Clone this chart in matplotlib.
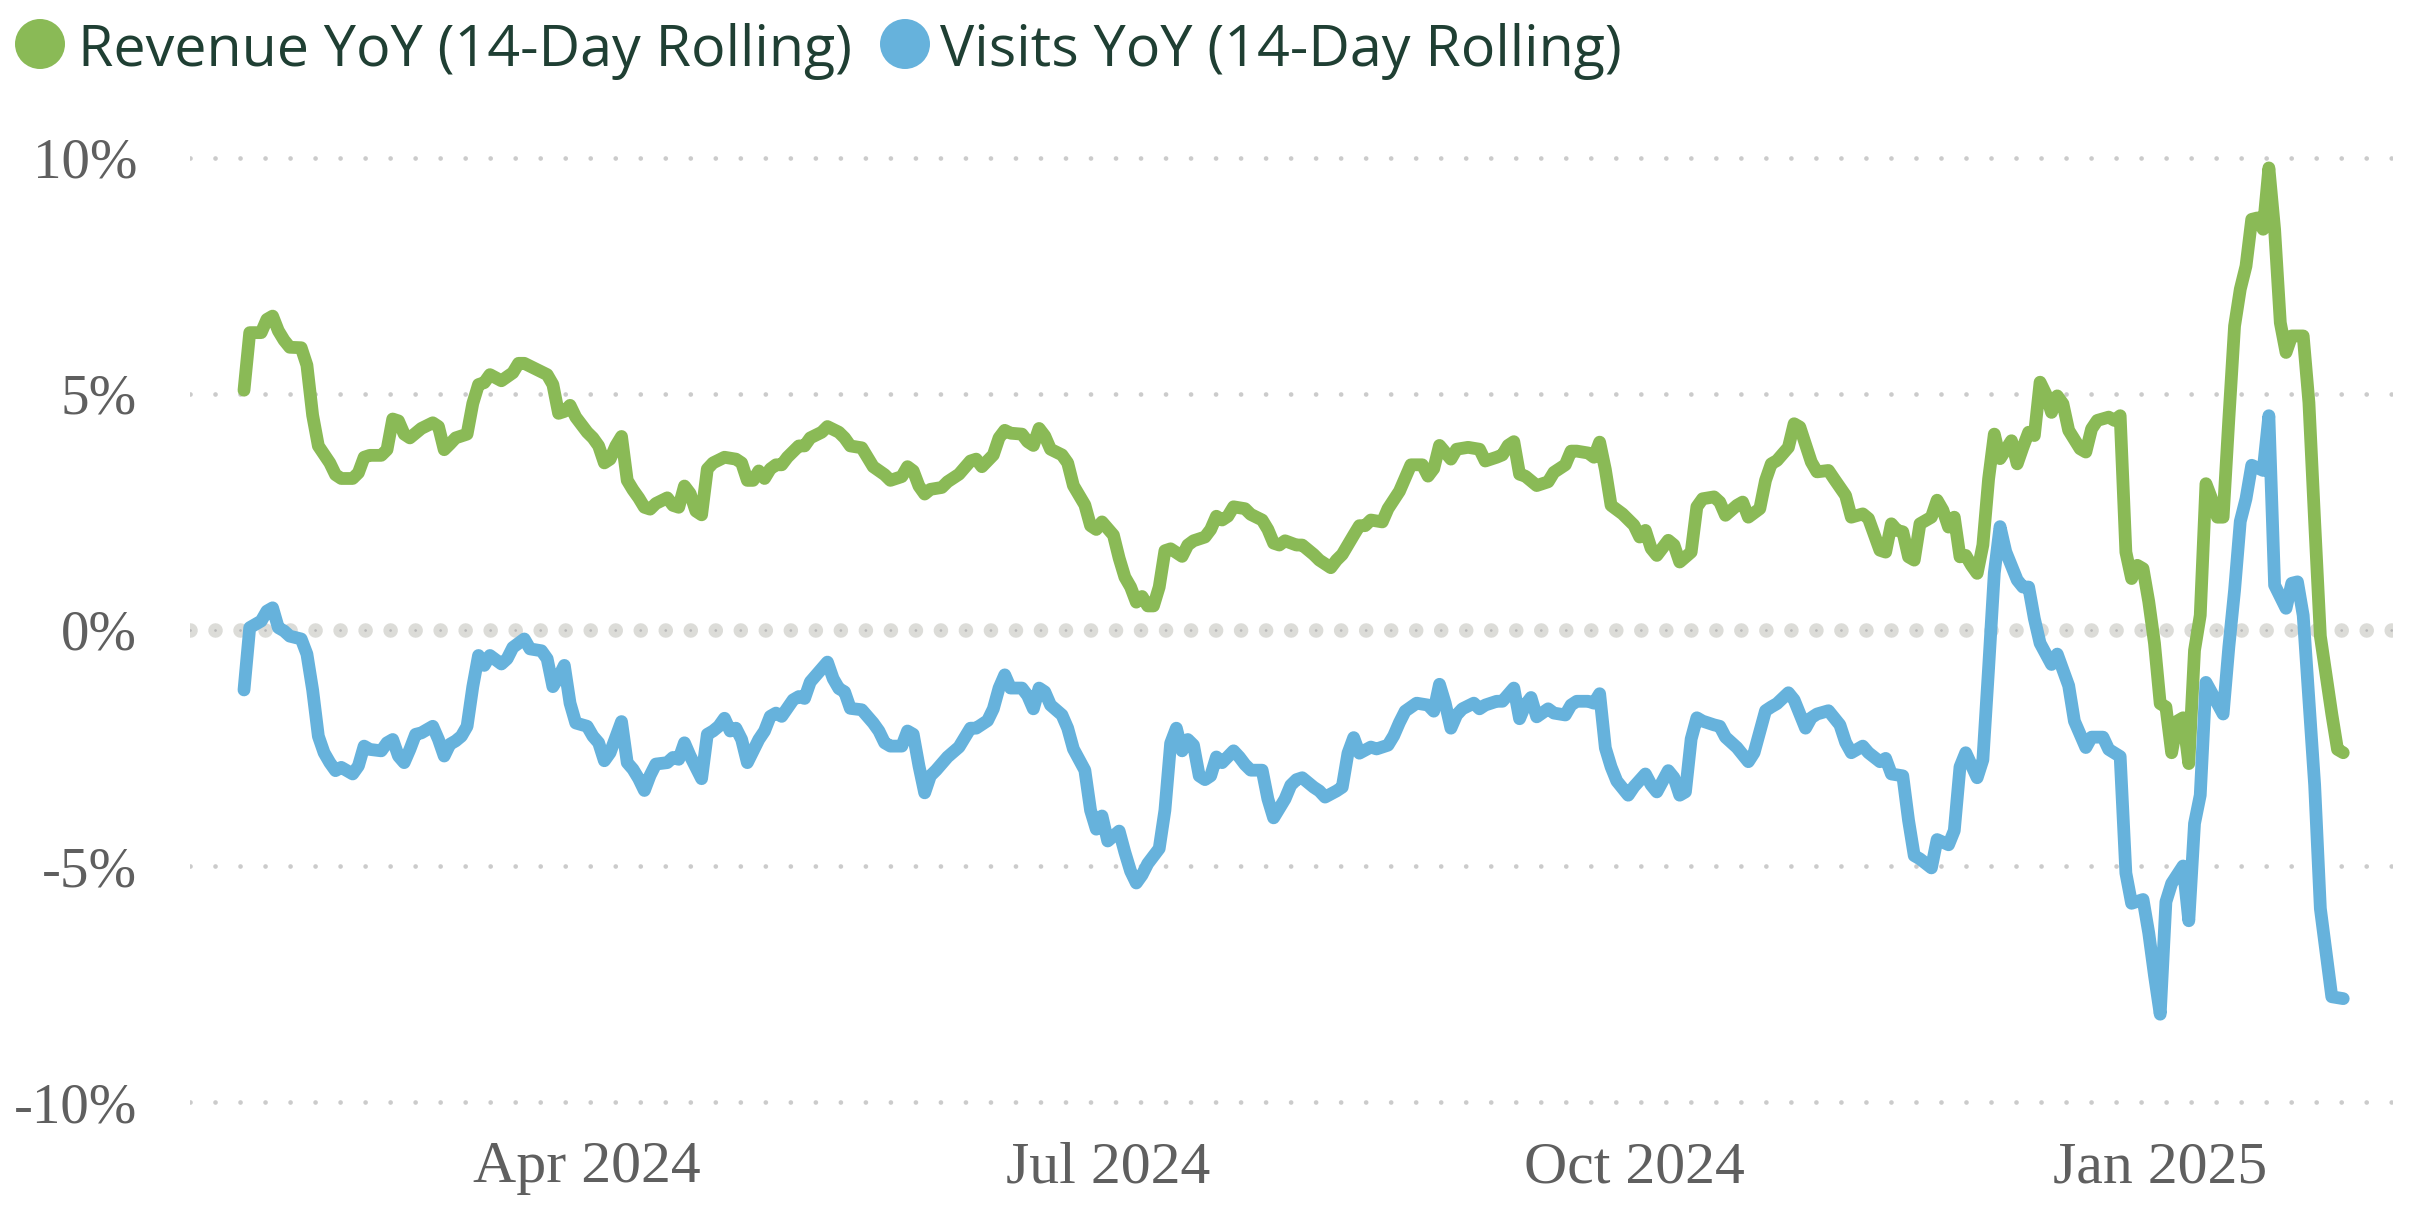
import matplotlib
matplotlib.use("Agg")
import matplotlib.pyplot as plt
import matplotlib.dates as mdates
from matplotlib.patches import Circle
import numpy as np
import pandas as pd

# ---------------- data ----------------
start_date = "2024-02-01"

revenue_day = [
    0, 1, 3, 4, 5, 6, 7, 8, 10, 11,
    12, 13, 15, 16, 17, 19, 20, 21, 22, 24,
    25, 26, 27, 28, 29, 31, 33, 34, 35, 36,
    37, 39, 40, 41, 42, 43, 45, 47, 48, 49,
    51, 53, 54, 55, 56, 57, 58, 59, 60, 61,
    62, 63, 64, 65, 66, 67, 68, 69, 70, 71,
    72, 74, 75, 76, 77, 78, 79, 80, 81, 82,
    84, 86, 87, 88, 89, 90, 91, 92, 93, 94,
    95, 97, 98, 99, 101, 102, 104, 105, 106, 108,
    109, 110, 112, 113, 115, 116, 117, 118, 119, 120,
    122, 123, 125, 127, 128, 129, 131, 132, 133, 134,
    136, 137, 138, 139, 140, 141, 143, 144, 145, 147,
    148, 149, 150, 152, 153, 154, 155, 156, 157, 158,
    159, 160, 161, 162, 164, 165, 166, 168, 169, 170,
    171, 172, 173, 175, 176, 178, 179, 180, 181, 182,
    184, 185, 187, 188, 190, 191, 192, 194, 195, 196,
    197, 199, 200, 202, 203, 204, 206, 207, 208, 209,
    211, 212, 214, 216, 217, 219, 220, 221, 222, 223,
    224, 226, 228, 229, 231, 232, 233, 235, 236, 237,
    238, 239, 241, 243, 244, 245, 246, 247, 249, 250,
    251, 253, 254, 255, 257, 258, 259, 261, 262, 263,
    265, 266, 267, 268, 270, 271, 272, 274, 275, 277,
    278, 280, 281, 283, 284, 286, 287, 288, 289, 290,
    291, 292, 293, 295, 296, 297, 298, 299, 300, 301,
    302, 303, 304, 305, 306, 307, 309, 310, 311, 312,
    313, 314, 315, 316, 317, 318, 319, 321, 322, 323,
    324, 326, 327, 328, 329, 330, 331, 332, 333, 334,
    335, 336, 337, 338, 339, 340, 341, 342, 343, 344,
    345, 346, 347, 348, 349, 350, 351, 352, 353, 354,
    355, 356, 357, 358, 360, 361, 362, 363, 365, 366,
    367,
]
revenue_yoy = [
    5.08, 6.30, 6.30, 6.58, 6.65, 6.34, 6.14, 5.99, 5.98, 5.61,
    4.55, 3.90, 3.54, 3.29, 3.21, 3.21, 3.33, 3.66, 3.70, 3.70,
    3.82, 4.47, 4.43, 4.15, 4.07, 4.27, 4.39, 4.31, 3.82, 3.94,
    4.07, 4.15, 4.80, 5.20, 5.24, 5.41, 5.28, 5.45, 5.65, 5.65,
    5.53, 5.41, 5.20, 4.59, 4.63, 4.76, 4.51, 4.35, 4.19, 4.07,
    3.90, 3.54, 3.62, 3.90, 4.10, 3.17, 2.97, 2.80, 2.60, 2.56,
    2.68, 2.80, 2.64, 2.60, 3.05, 2.89, 2.52, 2.44, 3.41, 3.54,
    3.66, 3.62, 3.54, 3.17, 3.17, 3.37, 3.21, 3.41, 3.50, 3.50,
    3.66, 3.90, 3.90, 4.07, 4.19, 4.31, 4.19, 4.07, 3.90, 3.86,
    3.66, 3.46, 3.29, 3.17, 3.25, 3.46, 3.37, 3.05, 2.88, 2.98,
    3.02, 3.14, 3.30, 3.58, 3.62, 3.46, 3.71, 4.07, 4.23, 4.17,
    4.15, 3.99, 3.91, 4.27, 4.11, 3.83, 3.71, 3.54, 3.06, 2.65,
    2.21, 2.13, 2.29, 2.01, 1.52, 1.12, 0.91, 0.59, 0.71, 0.51,
    0.51, 0.91, 1.68, 1.72, 1.56, 1.80, 1.89, 1.97, 2.13, 2.41,
    2.33, 2.41, 2.61, 2.57, 2.45, 2.33, 2.13, 1.84, 1.80, 1.89,
    1.80, 1.80, 1.60, 1.48, 1.32, 1.48, 1.60, 2.01, 2.21, 2.21,
    2.33, 2.29, 2.57, 2.94, 3.22, 3.50, 3.50, 3.26, 3.42, 3.91,
    3.62, 3.83, 3.87, 3.83, 3.58, 3.66, 3.71, 3.91, 3.99, 3.30,
    3.26, 3.06, 3.14, 3.34, 3.50, 3.79, 3.79, 3.75, 3.66, 3.98,
    3.40, 2.64, 2.46, 2.22, 1.97, 2.11, 1.73, 1.58, 1.90, 1.80,
    1.44, 1.65, 2.61, 2.78, 2.82, 2.71, 2.43, 2.64, 2.71, 2.39,
    2.57, 3.17, 3.52, 3.59, 3.87, 4.37, 4.30, 3.56, 3.35, 3.38,
    3.20, 2.85, 2.39, 2.46, 2.36, 1.69, 1.65, 2.25, 2.11, 2.08,
    1.55, 1.48, 2.25, 2.39, 2.75, 2.54, 2.18, 2.39, 1.55, 1.58,
    1.37, 1.20, 1.80, 3.20, 4.15, 3.63, 4.01, 3.52, 3.87, 4.19,
    4.12, 5.25, 5.00, 4.61, 4.96, 4.79, 4.23, 3.84, 3.77, 4.26,
    4.44, 4.51, 4.44, 4.54, 1.65, 1.09, 1.37, 1.30, 0.60, -0.28,
    -1.56, -1.63, -2.60, -1.93, -1.86, -2.83, -0.43, 0.31, 3.10, 2.78,
    2.39, 2.39, 4.47, 6.44, 7.22, 7.71, 8.70, 8.73, 8.49, 9.79,
    8.49, 6.51, 5.88, 6.23, 6.23, 4.82, 2.30, -0.13, -1.78, -2.53,
    -2.60,
]

visits_day = [
    0, 1, 3, 4, 5, 6, 7, 8, 10, 11,
    12, 13, 14, 15, 16, 17, 19, 20, 21, 22,
    24, 25, 26, 27, 28, 29, 30, 31, 33, 34,
    35, 36, 37, 38, 39, 40, 41, 42, 43, 45,
    46, 47, 49, 50, 52, 53, 54, 55, 56, 57,
    58, 60, 61, 62, 63, 64, 66, 67, 68, 69,
    70, 71, 72, 74, 75, 76, 77, 78, 80, 81,
    82, 83, 84, 85, 86, 87, 88, 90, 91, 92,
    93, 94, 96, 97, 98, 99, 101, 102, 103, 104,
    105, 106, 108, 110, 111, 112, 113, 115, 116, 117,
    118, 119, 120, 121, 123, 125, 126, 127, 128, 130,
    131, 132, 133, 134, 136, 137, 138, 139, 140, 141,
    143, 144, 145, 147, 148, 149, 150, 151, 153, 154,
    155, 156, 157, 158, 160, 161, 162, 163, 164, 165,
    166, 167, 168, 169, 170, 171, 173, 174, 175, 176,
    178, 179, 180, 182, 183, 184, 185, 187, 188, 189,
    191, 192, 193, 194, 195, 197, 198, 200, 201, 202,
    203, 205, 207, 208, 209, 210, 211, 212, 213, 215,
    216, 217, 219, 220, 222, 223, 224, 225, 226, 228,
    229, 231, 232, 233, 235, 236, 237, 238, 239, 240,
    242, 243, 245, 246, 247, 249, 250, 251, 252, 253,
    254, 255, 257, 258, 259, 261, 263, 264, 266, 267,
    268, 270, 271, 273, 274, 275, 277, 279, 280, 281,
    283, 284, 286, 287, 288, 290, 291, 292, 293, 295,
    296, 298, 299, 300, 301, 303, 304, 305, 306, 307,
    308, 310, 311, 312, 313, 314, 316, 317, 319, 320,
    322, 323, 325, 326, 328, 329, 330, 332, 333, 334,
    335, 336, 337, 339, 340, 341, 342, 343, 344, 346,
    347, 348, 349, 350, 351, 353, 354, 355, 357, 358,
    359, 360, 362, 363, 365, 367,
]
visits_yoy = [
    -1.27, 0.05, 0.19, 0.40, 0.47, 0.05, -0.02, -0.13, -0.19, -0.51,
    -1.27, -2.25, -2.60, -2.81, -2.98, -2.91, -3.05, -2.88, -2.46, -2.53,
    -2.56, -2.39, -2.32, -2.67, -2.81, -2.53, -2.21, -2.18, -2.04, -2.32,
    -2.67, -2.42, -2.35, -2.25, -2.04, -1.20, -0.54, -0.75, -0.54, -0.72,
    -0.61, -0.37, -0.19, -0.40, -0.44, -0.61, -1.20, -1.00, -0.75, -1.55,
    -1.97, -2.04, -2.25, -2.39, -2.77, -2.60, -1.94, -2.81, -2.95, -3.15,
    -3.40, -3.08, -2.84, -2.81, -2.70, -2.74, -2.39, -2.67, -3.15, -2.21,
    -2.14, -2.04, -1.87, -2.14, -2.08, -2.32, -2.81, -2.32, -2.14, -1.83,
    -1.76, -1.83, -1.48, -1.41, -1.45, -1.10, -0.82, -0.68, -1.03, -1.24,
    -1.31, -1.66, -1.69, -1.97, -2.14, -2.39, -2.46, -2.46, -2.14, -2.21,
    -2.88, -3.45, -3.09, -2.97, -2.69, -2.48, -2.28, -2.08, -2.08, -1.92,
    -1.67, -1.23, -0.95, -1.23, -1.23, -1.39, -1.67, -1.23, -1.31, -1.59,
    -1.80, -2.08, -2.52, -2.97, -3.82, -4.22, -3.94, -4.47, -4.26, -4.71,
    -5.11, -5.36, -5.19, -4.95, -4.63, -3.82, -2.40, -2.08, -2.56, -2.32,
    -2.44, -3.09, -3.17, -3.09, -2.69, -2.81, -2.56, -2.69, -2.85, -2.97,
    -2.97, -3.58, -3.98, -3.58, -3.29, -3.17, -3.13, -3.33, -3.41, -3.54,
    -3.41, -3.33, -2.61, -2.28, -2.61, -2.48, -2.52, -2.44, -2.24, -1.96,
    -1.72, -1.55, -1.59, -1.72, -1.15, -1.55, -2.08, -1.80, -1.67, -1.55,
    -1.67, -1.59, -1.51, -1.51, -1.23, -1.88, -1.59, -1.43, -1.84, -1.67,
    -1.76, -1.80, -1.59, -1.51, -1.51, -1.55, -1.35, -2.50, -2.90, -3.20,
    -3.50, -3.32, -3.05, -3.28, -3.43, -2.98, -3.13, -3.50, -3.43, -2.31,
    -1.86, -1.93, -2.01, -2.04, -2.27, -2.49, -2.79, -2.60, -1.71, -1.63,
    -1.56, -1.33, -1.48, -2.08, -1.86, -1.78, -1.71, -2.01, -2.38, -2.60,
    -2.46, -2.60, -2.79, -2.72, -3.05, -3.09, -4.03, -4.78, -4.85, -5.04,
    -4.44, -4.55, -4.25, -2.90, -2.60, -3.13, -2.75, -0.81, 1.21, 2.19,
    1.66, 1.06, 0.91, 0.91, 0.24, -0.28, -0.73, -0.51, -1.18, -1.93,
    -2.49, -2.27, -2.27, -2.53, -2.68, -5.15, -5.79, -5.71, -6.42, -7.32,
    -8.14, -5.76, -5.37, -5.00, -6.16, -4.10, -3.50, -1.11, -1.33, -1.78,
    -0.36, 0.84, 2.30, 2.78, 3.49, 3.38, 4.54, 0.95, 0.46, 0.99,
    1.02, 0.31, -3.28, -5.90, -7.77, -7.81,
]

series_names = ["Revenue YoY (14-Day Rolling)", "Visits YoY (14-Day Rolling)"]
series_colors = ["#8aba56", "#66b2dc"]

y_ticks = [-10, -5, 0, 5, 10]
y_tick_labels = ["-10%", "-5%", "0%", "5%", "10%"]
x_tick_dates = ["2024-04-01", "2024-07-01", "2024-10-01", "2025-01-01"]
x_tick_labels = ["Apr 2024", "Jul 2024", "Oct 2024", "Jan 2025"]

# ---------------- figure ----------------
plt.rcParams["lines.scale_dashes"] = False
W, H, DPI = 2420, 1214, 100
fig = plt.figure(figsize=(W / DPI, H / DPI), dpi=DPI)
fig.patch.set_facecolor("white")

ax_left_px, ax_right_px, ax_top_px, ax_bottom_px = 190, 2393, 130, 1130
ax = fig.add_axes([ax_left_px / W, 1 - ax_bottom_px / H,
                   (ax_right_px - ax_left_px) / W, (ax_bottom_px - ax_top_px) / H])
ax.set_facecolor("white")

t0 = pd.Timestamp(start_date)
rev_x = t0 + pd.to_timedelta(np.array(revenue_day), unit="D")
vis_x = t0 + pd.to_timedelta(np.array(visits_day), unit="D")

x0 = mdates.date2num(t0)
ax.set_xlim(x0 - 9.44, x0 + 375.7)
ax.set_ylim(-10.593, 10.593)

# gridlines (dotted)
dot_style = (0, (0.01, 18))
for yv in y_ticks:
    if yv == 0:
        ax.axhline(yv, color="#dcdcd8", lw=10.5, linestyle=dot_style,
                   dash_capstyle="round", zorder=1)
        ax.axhline(yv, color="#b8b8b8", lw=2.0, linestyle=dot_style,
                   dash_capstyle="round", zorder=1.1)
    else:
        ax.axhline(yv, color="#cbcbcb", lw=3.4, linestyle=dot_style,
                   dash_capstyle="round", zorder=1)

ax.plot(rev_x, revenue_yoy, color=series_colors[0], lw=9.2,
        solid_joinstyle="round", solid_capstyle="round", zorder=3, clip_on=False)
ax.plot(vis_x, visits_yoy, color=series_colors[1], lw=9.2,
        solid_joinstyle="round", solid_capstyle="round", zorder=4, clip_on=False)

for s in ax.spines.values():
    s.set_visible(False)

ax.set_yticks(y_ticks)
ax.set_yticklabels(y_tick_labels, fontfamily="Liberation Serif", fontsize=41,
                   color="#5f5f5f")
ax.set_xticks([mdates.date2num(pd.Timestamp(d)) for d in x_tick_dates])
ax.set_xticklabels(x_tick_labels, fontfamily="Liberation Serif", fontsize=43,
                   color="#5f5f5f")
ax.tick_params(axis="y", length=0, pad=38)
ax.tick_params(axis="x", length=0, pad=8)

# legend (manual)
legend_text_color = "#1f3f33"
circle_cx_px = [40, 905]
text_x_px = [78, 940]
cy_px = 44
for name, col, cx, tx in zip(series_names, series_colors, circle_cx_px, text_x_px):
    fig.add_artist(Circle((cx / DPI, (H - cy_px) / DPI), 25 / DPI,
                          transform=fig.dpi_scale_trans, color=col, lw=0))
    fig.text(tx / W, 1 - 66 / H, name, fontfamily="Open Sans", fontsize=41.3,
             color=legend_text_color, ha="left", va="baseline")

fig.savefig("out.png", dpi=DPI, facecolor="white")
